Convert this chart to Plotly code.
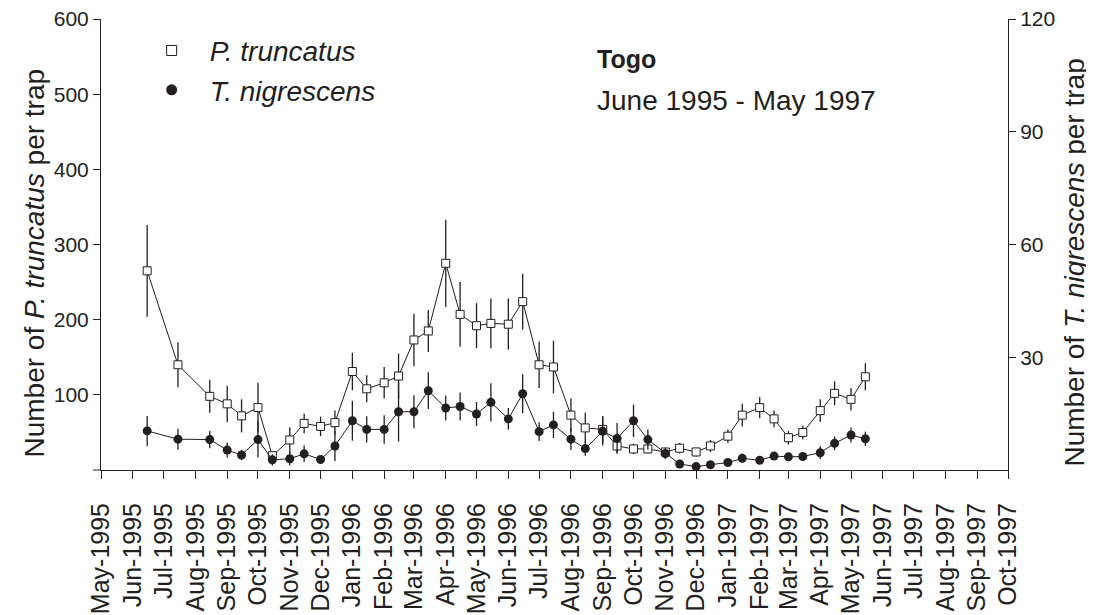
import plotly.graph_objects as go

# ---- data ----
dates = [
    "1995-06-15", "1995-07-15", "1995-08-15",
    "1995-09-01", "1995-09-15", "1995-10-01", "1995-10-15", "1995-11-01", "1995-11-15",
    "1995-12-01", "1995-12-15", "1996-01-01", "1996-01-15", "1996-02-01", "1996-02-15",
    "1996-03-01", "1996-03-15", "1996-04-01", "1996-04-15", "1996-05-01", "1996-05-15",
    "1996-06-01", "1996-06-15", "1996-07-01", "1996-07-15", "1996-08-01", "1996-08-15",
    "1996-09-01", "1996-09-15", "1996-10-01", "1996-10-15", "1996-11-01", "1996-11-15",
    "1996-12-01", "1996-12-15", "1997-01-01", "1997-01-15", "1997-02-01", "1997-02-15",
    "1997-03-01", "1997-03-15", "1997-04-01", "1997-04-15", "1997-05-01", "1997-05-15",
]

p_truncatus = [
    265, 140, 98,
    88, 72, 83, 19, 40, 62,
    58, 63, 131, 108, 116, 125,
    173, 185, 275, 207, 192, 195,
    194, 224, 140, 137, 73, 56,
    54, 32, 28, 28, 24, 29,
    24, 32, 45, 73, 83, 68,
    43, 50, 79, 102, 94, 124,
]
p_truncatus_err = [
    61, 30, 22,
    24, 22, 33, 5, 17, 13,
    13, 16, 25, 18, 21, 30,
    35, 28, 58, 43, 30, 33,
    34, 37, 31, 35, 22, 20,
    18, 9, 7, 6, 5, 7,
    6, 8, 9, 15, 14, 11,
    9, 9, 15, 16, 15, 18,
]

t_nigrescens = [
    10.4, 8.2, 8.1,
    5.3, 4.0, 8.1, 2.7, 3.0, 4.3,
    2.8, 6.4, 13.1, 10.8, 10.8, 15.5,
    15.5, 21.1, 16.5, 16.9, 14.9, 18.0,
    13.6, 20.3, 10.2, 12.0, 8.2, 5.7,
    10.3, 8.4, 13.1, 8.1, 4.4, 1.6,
    0.9, 1.4, 2.0, 3.1, 2.6, 3.7,
    3.5, 3.6, 4.6, 7.1, 9.3, 8.3,
]
t_nigrescens_err = [
    4.0, 2.8, 2.3,
    2.0, 1.4, 4.8, 1.5, 1.8, 2.2,
    1.1, 4.0, 5.3, 3.5, 3.8, 7.9,
    4.4, 4.9, 3.3, 3.7, 3.2, 5.1,
    2.9, 5.2, 2.5, 3.5, 2.9, 1.9,
    3.8, 4.1, 4.3, 2.7, 1.5, 0.8,
    0.5, 0.6, 0.8, 1.2, 0.8, 1.0,
    1.0, 1.0, 1.7, 1.8, 2.0, 1.9,
]

left_ticks = [100, 200, 300, 400, 500, 600]
right_ticks = [30, 60, 90, 120]

INK = "#231f20"
FONT = "Liberation Sans, Arial, Helvetica, sans-serif"

fig = go.Figure()

fig.add_trace(go.Scatter(
    x=dates, y=p_truncatus, mode="lines+markers", showlegend=False,
    line=dict(color=INK, width=1),
    marker=dict(symbol="square", size=8, color="white", line=dict(color=INK, width=1)),
    error_y=dict(type="data", array=p_truncatus_err, visible=True,
                 color=INK, thickness=1.3, width=0),
    yaxis="y",
))
fig.add_trace(go.Scatter(
    x=dates, y=t_nigrescens, mode="lines+markers", showlegend=False,
    line=dict(color=INK, width=1),
    marker=dict(symbol="circle", size=9, color=INK),
    error_y=dict(type="data", array=t_nigrescens_err, visible=True,
                 color=INK, thickness=1.3, width=0),
    yaxis="y2",
))

# legend-only entries (marker symbols without line)
fig.add_trace(go.Scatter(
    x=[None], y=[None], mode="markers", name="<i>P. truncatus</i>",
    marker=dict(symbol="square", size=10, color="white", line=dict(color=INK, width=1)),
    legendgroup="a",
))
fig.add_trace(go.Scatter(
    x=[None], y=[None], mode="markers", name="<i>T. nigrescens</i>",
    marker=dict(symbol="circle", size=11, color=INK),
    legendgroup="b",
))

# page body has an 8px margin, so the figure is 8px smaller than the window
W, H = 1086, 607
PL, PT, PW, PH = 93, 11, 907, 451

fig.update_layout(
    width=W, height=H,
    margin=dict(l=PL, r=W - PL - PW, t=PT, b=H - PT - PH, autoexpand=False),
    paper_bgcolor="white", plot_bgcolor="white",
    font=dict(family=FONT, color=INK, size=21),
    showlegend=True,
    legend=dict(
        x=0.036, y=0.985, xanchor="left", yanchor="top",
        bgcolor="rgba(0,0,0,0)", borderwidth=0,
        font=dict(size=28, color=INK, family=FONT),
        itemwidth=66, tracegroupgap=0, traceorder="grouped",
    ),
    xaxis=dict(
        type="date",
        range=["1995-05-01", "1997-10-01"],
        tick0="1995-05-01", dtick="M1", tickformat="%b-%Y",
        tickangle=-90, ticks="outside", ticklen=8, tickwidth=1, tickcolor=INK,
        showline=True, linecolor=INK, linewidth=1,
        showgrid=False, zeroline=False,
        tickfont=dict(size=25, color=INK, family=FONT),
        ticklabelstandoff=14, ticklabeloverflow="allow",
    ),
    yaxis=dict(
        range=[0, 600], tickvals=left_ticks,
        ticks="outside", ticklen=7, tickwidth=1, tickcolor=INK,
        showline=True, linecolor=INK, linewidth=1,
        showgrid=False, zeroline=False,
        tickfont=dict(size=21, color=INK, family=FONT),
        ticklabeloverflow="allow",
    ),
    yaxis2=dict(
        range=[0, 120], tickvals=right_ticks, overlaying="y", side="right",
        ticks="outside", ticklen=7, tickwidth=1, tickcolor=INK,
        showline=True, linecolor=INK, linewidth=1,
        showgrid=False, zeroline=False,
        tickfont=dict(size=21, color=INK, family=FONT),
        ticklabeloverflow="allow",
    ),
    shapes=[dict(type="line", xref="paper", yref="paper", x0=-8 / PW, x1=0, y0=0, y1=0,
                 line=dict(color=INK, width=1))],
    annotations=[
        dict(text="<b>Togo</b>", xref="paper", yref="paper", x=0.545, y=0.911,
             xanchor="left", yanchor="middle", showarrow=False,
             font=dict(size=25, color=INK, family=FONT)),
        dict(text="June 1995 - May 1997", xref="paper", yref="paper", x=0.545, y=0.820,
             xanchor="left", yanchor="middle", showarrow=False,
             font=dict(size=28, color=INK, family=FONT)),
        dict(text="Number of <i>P. truncatus</i> per trap", xref="paper", yref="paper",
             x=-0.0728, y=0.46, xanchor="center", yanchor="middle", textangle=-90,
             showarrow=False, font=dict(size=28, color=INK, family=FONT)),
        dict(text="Number of <i>T. nigrescens</i> per trap", xref="paper", yref="paper",
             x=1.0739, y=0.46, xanchor="center", yanchor="middle", textangle=-90,
             showarrow=False, font=dict(size=28, color=INK, family=FONT)),
    ],
)

fig.write_html("out.html")
